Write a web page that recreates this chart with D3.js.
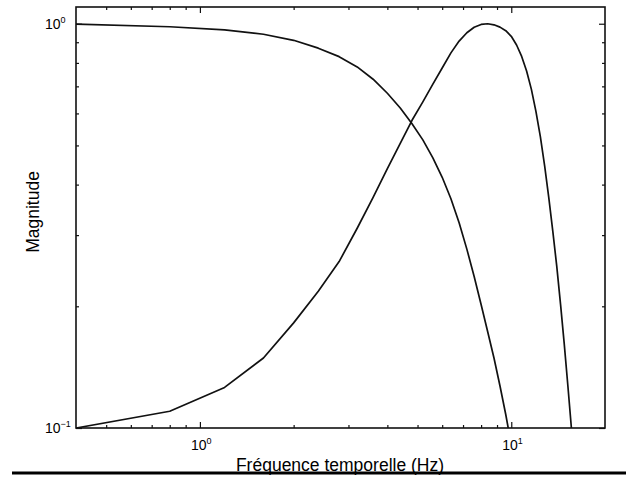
<!DOCTYPE html>
<html>
<head>
<meta charset="utf-8">
<script src="https://cdn.jsdelivr.net/npm/d3@7"></script>
<style>
  body { margin: 0; background: #fff; }
  svg { display: block; font-family: "Liberation Sans", Arial, sans-serif; }
</style>
</head>
<body>
<svg id="chart" width="626" height="478"></svg>
<script>

// Data, frequencies in Hz

var freqs = [0.4, 0.8, 1.2, 1.6, 2.0, 2.4, 2.8, 3.2, 3.6, 4.0,
             4.4, 4.8, 5.2, 5.6, 6.0, 6.4, 6.8, 7.2, 7.6, 8.0,
             8.4, 8.8, 9.2, 9.6, 10.0, 10.4, 10.8, 11.2, 11.6, 12.0,
             12.4, 12.8, 13.2, 13.6, 14.0, 14.4, 14.8, 15.2, 15.6, 16.0];

// low-pass response (null = below the plot)
var lowPass = [0.998, 0.983, 0.966, 0.942, 0.910, 0.870, 0.829, 0.782, 0.729, 0.673,
               0.619, 0.566, 0.516, 0.466, 0.417, 0.369, 0.322, 0.277, 0.237, 0.202,
               0.173, 0.149, 0.127, 0.108, 0.091, null, null, null, null, null,
               null, null, null, null, null, null, null, null, null, null];

// band-pass response
var bandPass = [0.100, 0.110, 0.126, 0.149, 0.182, 0.218, 0.258, 0.312, 0.372, 0.438,
                0.506, 0.577, 0.641, 0.709, 0.777, 0.847, 0.906, 0.950, 0.980, 0.996,
                1.000, 0.994, 0.981, 0.961, 0.931, 0.886, 0.830, 0.764, 0.689, 0.607,
                0.526, 0.445, 0.371, 0.306, 0.251, 0.202, 0.161, 0.127, 0.100, 0.079];

var xMajor = [1, 10],
    xMinor = [0.5, 0.6, 0.7, 0.8, 0.9, 2, 3, 4, 5, 6, 7, 8, 9],
    yMajor = [0.1, 1],
    yMinor = [0.2, 0.3, 0.4, 0.5, 0.6, 0.7, 0.8, 0.9];

var xLabels = [{ v: 1, e: "0" }, { v: 10, e: "1" }],
    yLabels = [{ v: 1, e: "0" }, { v: 0.1, e: "\u22121" }];

// Layout

var plotL = 76, plotR = 605, plotT = 7, plotB = 428;

var svg = d3.select("#chart");

var x = d3.scaleLog().domain([0.4, 20]).range([plotL, plotR]),
    y = d3.scaleLog().domain([0.1, 1.1]).range([plotB, plotT]);

// inward ticks on all four sides

function ticks(axisFn, scale, values, size, tr) {
  svg.append("g")
    .attr("transform", tr)
    .call(axisFn(scale).tickValues(values).tickSizeInner(size).tickSizeOuter(0).tickFormat(""))
    .call(function(g) {
      g.select(".domain").remove();
      g.selectAll("line").attr("stroke", "#111").attr("stroke-width", 1.2);
    });
}

ticks(d3.axisBottom, x, xMajor, -6, "translate(0," + plotB + ")");
ticks(d3.axisBottom, x, xMinor, -3, "translate(0," + plotB + ")");
ticks(d3.axisTop, x, xMajor, -6, "translate(0," + plotT + ")");
ticks(d3.axisTop, x, xMinor, -3, "translate(0," + plotT + ")");
ticks(d3.axisLeft, y, yMajor, -6, "translate(" + plotL + ",0)");
ticks(d3.axisLeft, y, yMinor, -3, "translate(" + plotL + ",0)");
ticks(d3.axisRight, y, yMajor, -6, "translate(" + plotR + ",0)");
ticks(d3.axisRight, y, yMinor, -3, "translate(" + plotR + ",0)");

// frame

svg.append("rect")
  .attr("x", plotL)
  .attr("y", plotT)
  .attr("width", plotR - plotL)
  .attr("height", plotB - plotT)
  .attr("fill", "none")
  .attr("stroke", "#111")
  .attr("stroke-width", 1.6);

// curves

svg.append("clipPath")
  .attr("id", "plotClip")
  .append("rect")
  .attr("x", plotL)
  .attr("y", plotT)
  .attr("width", plotR - plotL)
  .attr("height", plotB - plotT);

var line = d3.line()
  .defined(function(d) { return d[1] != null; })
  .x(function(d) { return x(d[0]); })
  .y(function(d) { return y(d[1]); });

[lowPass, bandPass].forEach(function(series) {
  svg.append("path")
    .datum(freqs.map(function(f, i) { return [f, series[i]]; }))
    .attr("clip-path", "url(#plotClip)")
    .attr("fill", "none")
    .attr("stroke", "#111")
    .attr("stroke-width", 1.7)
    .attr("stroke-linejoin", "round")
    .attr("d", line);
});

// tick labels (10 with superscript exponent)

svg.selectAll(".xlab")
  .data(xLabels)
  .enter()
  .append("text")
  .attr("class", "xlab")
  .attr("x", function(d) { return x(d.v) - 9; })
  .attr("y", plotB + 22)
  .style("font-size", "14px")
  .each(function(d) {
    var t = d3.select(this);
    t.append("tspan").text("10");
    t.append("tspan").attr("dy", -6).style("font-size", "9px").text(d.e);
  });

svg.selectAll(".ylab")
  .data(yLabels)
  .enter()
  .append("text")
  .attr("class", "ylab")
  .attr("x", 45)
  .attr("y", function(d) { return y(d.v) + 5; })
  .style("font-size", "14px")
  .each(function(d) {
    var t = d3.select(this);
    t.append("tspan").text("10");
    t.append("tspan").attr("dy", -6).style("font-size", "9px").text(d.e);
  });

// axis titles

svg.append("text")
  .attr("x", 340)
  .attr("y", 471)
  .attr("text-anchor", "middle")
  .style("font-size", "17.5px")
  .text("Fréquence temporelle (Hz)");

svg.append("text")
  .attr("transform", "translate(39,212) rotate(-90)")
  .attr("text-anchor", "middle")
  .style("font-size", "17.5px")
  .text("Magnitude");

// rule under the figure

svg.append("line")
  .attr("x1", 12)
  .attr("x2", 626)
  .attr("y1", 473)
  .attr("y2", 473)
  .attr("stroke", "#000")
  .attr("stroke-width", 3);

</script>
</body>
</html>
